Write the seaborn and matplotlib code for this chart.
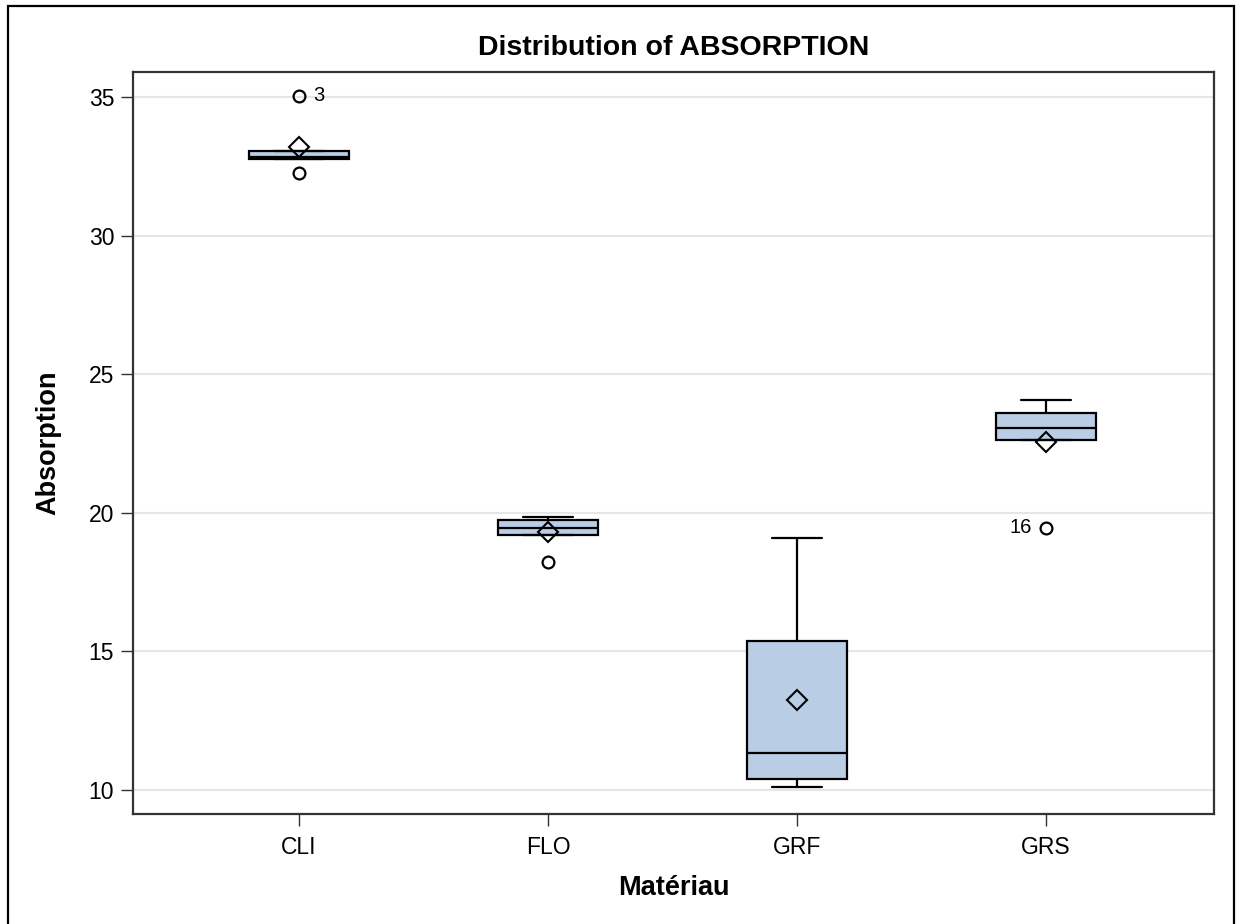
import numpy as np
import pandas as pd
import matplotlib
matplotlib.use('Agg')
import matplotlib.pyplot as plt
import seaborn as sns
from matplotlib.patches import Rectangle

# Absorption measurements per observation (5 per material)
obs = list(range(1, 21))
material = ['CLI'] * 5 + ['FLO'] * 5 + ['GRF'] * 5 + ['GRS'] * 5
absorption = [32.85, 33.05, 35.04, 32.27, 32.75,
              19.45, 19.74, 18.23, 19.85, 19.20,
              11.33, 19.09, 10.40, 15.37, 10.11,
              19.45, 23.06, 24.07, 22.63, 23.60]
order = ['CLI', 'FLO', 'GRF', 'GRS']
y_ticks = [10, 15, 20, 25, 30, 35]

# outliers labelled with their observation number
labelled_obs = [3, 16]
label_side = ['right', 'left']

df = pd.DataFrame({'obs': obs, 'material': material, 'absorption': absorption})

sns.set_theme(style='white')
plt.rcParams['font.family'] = ['Liberation Sans', 'DejaVu Sans']
plt.rcParams['text.color'] = 'black'
plt.rcParams['axes.labelcolor'] = 'black'

fig = plt.figure(figsize=(12.37, 9.24), dpi=100)
ax = fig.add_axes([0.1075, 0.119, 0.8739, 0.8031])

# light horizontal grid behind boxes
ax.set_axisbelow(True)
ax.yaxis.grid(True, color='#E6E6E6', linewidth=1.5)

sns.boxplot(data=df, x='material', y='absorption', order=order,
            width=0.4, color='#B9CDE5', saturation=1, linecolor='black',
            linewidth=1.6, showmeans=True,
            meanprops={'marker': 'D', 'markersize': 10.5, 'markerfacecolor': 'none',
                       'markeredgecolor': 'black', 'markeredgewidth': 1.5},
            flierprops={'marker': 'o', 'markersize': 8.5, 'markerfacecolor': 'none',
                        'markeredgecolor': 'black', 'markeredgewidth': 1.6},
            ax=ax)

for o, side in zip(labelled_obs, label_side):
    row = df[df['obs'] == o].iloc[0]
    xpos = order.index(row['material'])
    if side == 'right':
        ax.annotate(str(o), (xpos, row['absorption']), xytext=(10, 0),
                    textcoords='offset points', ha='left', va='center', fontsize=14.5)
    else:
        ax.annotate(str(o), (xpos, row['absorption']), xytext=(-10, 0),
                    textcoords='offset points', ha='right', va='center', fontsize=14.5)

ax.set_xlim(-0.667, 3.675)
ax.set_ylim(9.13, 35.9)
ax.set_yticks(y_ticks)
ax.tick_params(axis='both', direction='out', length=8.5, width=1, color='#333333',
               labelsize=16.5, labelcolor='black', pad=5,
               bottom=True, left=True)
ax.tick_params(axis='x', pad=7)
for sp in ax.spines.values():
    sp.set_color('#333333')
    sp.set_linewidth(1.6)

ax.set_title('Distribution of ABSORPTION', fontsize=20.5, fontweight='bold',
             color='black', pad=12)
ax.set_xlabel('Matériau', fontsize=19.5, fontweight='bold', labelpad=12)
ax.set_ylabel('Absorption', fontsize=19.5, fontweight='bold', labelpad=20)

# outer frame around the whole graph
fig.add_artist(Rectangle((0.0065, -0.02), 0.9911, 1.0135, transform=fig.transFigure,
                         fill=False, edgecolor='black', linewidth=1.6))

fig.savefig('out.png', dpi=100)
